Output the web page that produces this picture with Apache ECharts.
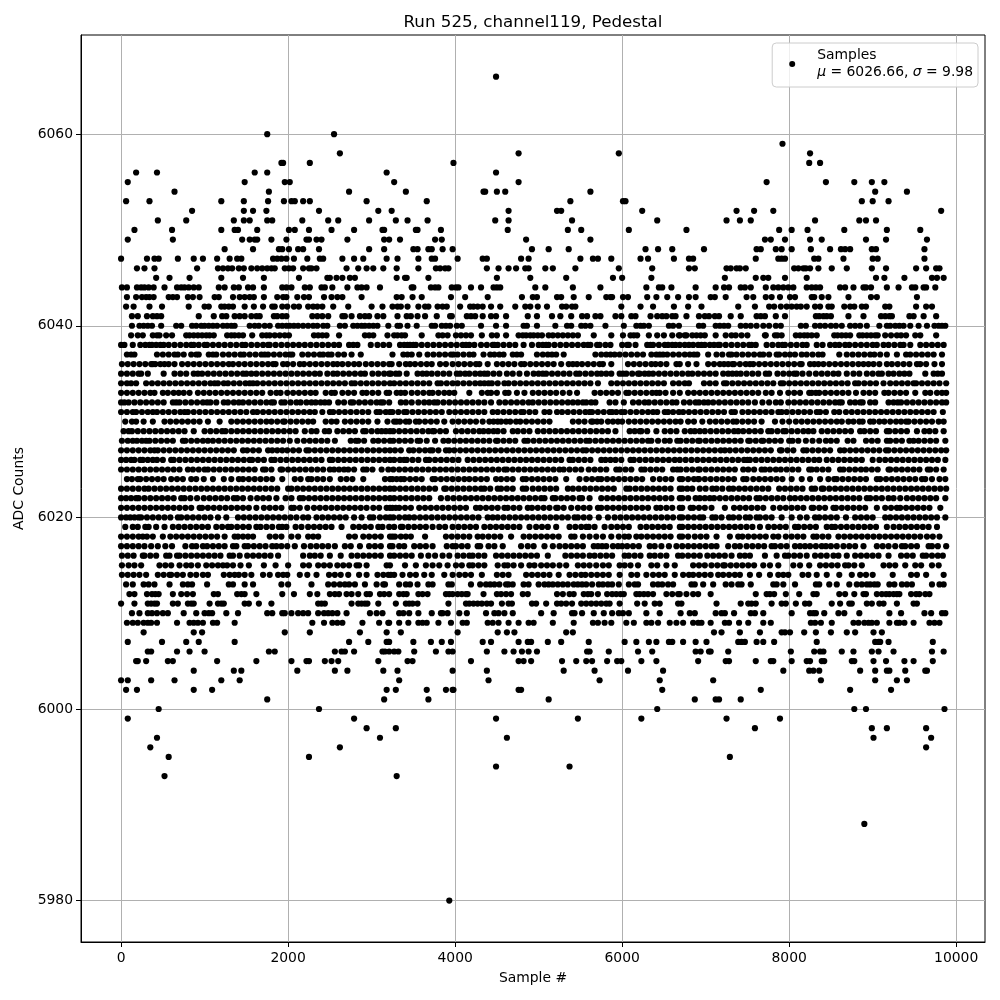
<!DOCTYPE html>
<html><head><meta charset="utf-8">
<style>html,body{margin:0;padding:0;background:#fff}#c{width:1000px;height:1000px}</style>
<script src="https://cdn.jsdelivr.net/npm/echarts@6/dist/echarts.min.js"></script>
</head><body><div id="c"></div>
<script>
// Sample numbers, one list per ADC level, written in tens of samples.
const r6066=[449];
const r6060=[175,255];
const r6059=[792];
const r6058=[262,476,596,825];
const r6057=[192,194,226,398,824,837];
const r6056=[18,43,160,175,318,449];
const r6055=[8,148,196,202,327,476,773,844,878,899,914];
const r6054=[64,177,273,341,434,436,450,460,562,903,941];
const r6053=[6,34,120,147,176,195,204,208,218,226,294,366,538,601,604,887,900,919];
const r6052=[85,147,158,174,237,308,324,464,522,527,624,737,758,781,982];
const r6051=[44,78,135,147,154,175,181,217,248,260,297,329,343,367,448,464,540,642,725,741,754,831,884,892,904];
const r6050=[16,61,120,136,140,163,201,208,225,252,279,313,315,353,355,383,463,535,551,608,677,788,803,822,866,917,957];
const r6049=[8,62,145,154,160,163,180,198,222,225,234,240,271,315,321,334,376,384,485,562,771,778,795,825,839,892,916,965];
const r6048=[124,158,189,193,201,212,218,237,297,315,350,355,368,372,385,397,492,512,536,628,643,660,698,761,766,784,791,803,826,849,862,867,873,899,904,962];
const r6047=[0,31,40,45,68,87,98,115,130,139,144,182,187,192,198,207,223,238,242,265,279,290,318,331,356,372,376,403,433,438,479,488,550,565,571,587,622,631,662,680,685,760,787,791,795,830,835,865,900,906,962];
const r6046=[19,28,40,91,116,122,128,133,141,147,156,163,169,175,180,184,196,201,206,218,225,228,234,270,284,294,302,314,330,356,377,382,388,392,438,452,464,473,484,488,508,517,544,596,636,680,687,725,730,737,741,748,806,811,817,820,825,835,851,869,899,916,952,964,976,980];
const r6045=[42,58,82,120,146,171,213,247,250,258,265,274,280,330,340,342,368,450,490,533,589,600,635,723,760,769,775,795,821,904,914,938,971,977,985];
const r6044=[1,7,19,24,28,33,39,52,67,72,76,81,87,93,117,124,135,141,152,158,171,193,198,204,220,226,240,244,253,271,283,288,294,310,348,350,371,376,380,396,401,404,419,431,446,450,454,496,508,541,574,629,644,648,659,688,712,722,728,742,747,754,772,781,787,793,799,805,821,827,832,837,861,867,877,889,892,898,917,931,947,951,961,964,975];
const r6043=[7,18,25,30,34,39,57,62,67,80,86,94,112,117,134,142,148,154,159,171,187,194,198,211,219,225,243,252,259,265,288,330,336,349,360,395,412,439,480,493,498,522,527,542,560,581,586,588,601,607,630,641,654,667,680,688,706,711,724,749,757,772,779,789,801,807,827,830,839,847,871,898,905,953];
const r6042=[6,15,34,49,81,100,105,120,124,129,134,148,159,170,181,184,193,199,207,213,224,230,235,241,254,272,300,313,325,331,335,343,356,364,368,379,385,390,406,418,422,427,433,443,454,472,484,490,499,510,528,533,540,544,599,622,637,662,679,695,739,759,776,782,790,797,803,809,814,821,831,837,847,851,866,873,878,887,892,915,920,952,964,971];
const r6041=[13,20,31,38,43,48,93,111,121,126,136,142,148,156,162,166,183,187,193,198,229,235,241,248,265,268,276,286,292,297,307,314,331,342,347,355,364,378,394,396,414,419,424,433,443,449,461,487,498,516,526,539,552,558,568,574,592,599,611,616,634,642,648,653,660,664,677,692,699,704,711,716,730,742,761,766,771,784,795,832,836,841,845,850,871,889,910,915,920,923,944,949,961,976];
const r6040=[13,22,27,32,37,48,66,72,85,90,96,100,105,110,115,122,127,132,136,154,160,165,172,178,188,193,198,202,207,212,218,224,230,235,242,247,262,268,278,283,288,292,297,302,307,320,331,334,343,354,372,376,384,389,394,402,408,431,449,461,482,486,498,520,534,539,551,556,562,580,602,617,622,626,632,656,661,668,692,697,712,717,722,727,742,748,754,761,769,776,784,790,814,820,831,837,843,850,856,863,873,879,885,893,908,917,921,927,932,937,945,955,965,974,979,983,987];
const r6039=[12,20,26,38,43,46,54,61,78,82,87,92,97,102,106,111,127,132,136,141,146,157,169,174,178,184,190,196,201,231,236,241,246,261,292,297,302,319,327,331,336,340,360,380,385,391,401,407,413,419,432,444,450,461,476,481,485,490,494,499,504,512,517,523,529,535,541,547,566,587,601,610,614,618,632,642,650,660,668,677,669,675,684,689,694,699,712,724,731,736,743,750,772,771,783,786,791,808,813,818,822,827,833,854,858,863,868,873,884,888,893,898,903,906,915,922,929,934,940,951,957,976];
const r6038=[0,4,14,23,29,34,37,42,47,51,57,64,71,78,84,87,93,100,103,110,117,124,131,138,145,149,156,163,170,176,178,185,192,199,206,213,220,227,234,241,248,255,261,273,278,283,299,307,314,321,334,339,343,346,350,353,360,367,374,381,388,395,402,409,413,417,423,431,438,445,447,451,458,465,472,482,492,500,505,509,512,519,526,533,540,547,554,559,562,570,573,580,586,600,606,608,616,630,634,637,644,651,655,660,664,669,675,680,685,691,695,699,705,710,715,717,724,731,738,745,752,755,760,773,780,787,792,795,802,809,816,821,833,840,849,855,860,867,872,879,886,893,900,905,913,919,926,933,937,945,957,964,971,978,985];
const r6037=[7,12,16,43,50,57,64,68,75,84,90,93,105,110,114,122,129,136,143,147,154,161,168,172,176,183,190,197,202,205,217,224,231,238,242,248,252,260,267,276,287,325,338,343,348,357,367,374,381,388,395,398,403,410,417,422,434,442,447,453,458,469,474,479,498,505,511,516,521,530,568,575,581,586,591,597,604,611,618,625,635,641,645,649,654,661,668,675,681,686,690,703,713,720,728,731,737,744,751,758,765,769,776,785,788,795,801,807,815,821,828,835,840,860,869,876,883,890,897,902,909,917,929,940,945,952,959,966,973,983];
const r6036=[1,8,15,22,29,36,38,41,47,52,57,64,73,80,87,94,101,108,115,122,129,134,141,148,155,162,169,176,182,185,194,199,206,214,219,226,233,240,247,254,259,265,272,279,285,293,300,307,314,321,324,333,341,346,352,359,366,372,382,389,397,404,411,418,425,429,439,450,457,464,471,479,483,490,497,504,511,518,527,536,541,546,552,559,566,573,577,587,607,614,621,628,635,640,646,653,665,669,679,689,703,710,717,722,727,732,734,741,748,753,757,764,771,778,785,792,799,806,813,815,825,830,835,841,848,855,862,869,876,883,889,895,901,908,917,923,930,937,944,953,957,964,974,983];
const r6035=[0,7,14,21,24,32,51,64,71,78,87,92,97,104,111,118,125,132,139,146,150,156,162,169,176,183,190,197,204,211,218,225,232,238,247,254,259,266,273,280,287,292,301,308,315,321,323,329,333,342,355,361,366,372,379,386,393,402,406,412,417,424,430,435,439,446,453,462,469,477,486,494,500,505,509,516,523,530,537,545,549,556,563,570,575,581,587,597,601,605,612,619,621,627,632,637,644,651,658,665,672,679,684,691,698,705,712,721,727,732,737,742,749,756,763,772,776,786,793,800,806,809,816,824,832,839,846,853,859,869,877,884,893,900,907,911,919,925,932,938,944,963,973,978,983];
const r6034=[0,7,12,18,30,37,44,51,58,65,72,79,86,93,100,107,112,116,123,128,135,142,149,154,158,163,170,177,184,191,198,205,212,219,226,233,240,247,254,261,268,276,280,287,294,301,308,315,322,327,334,341,348,355,362,369,379,383,390,397,403,410,417,424,430,435,440,444,451,459,464,471,478,485,492,499,506,513,520,527,534,541,548,555,562,571,587,594,601,608,615,622,629,636,643,650,661,668,675,680,698,705,712,722,725,732,739,746,753,760,767,774,781,790,793,800,807,814,821,828,835,842,849,856,863,870,879,883,890,897,904,913,921,928,935,942,949,952,959,966,973,980,988];
const r6033=[0,7,14,21,28,35,40,50,56,63,69,75,82,92,99,106,113,120,127,134,141,148,155,162,169,179,186,191,199,206,213,220,227,233,245,252,256,265,272,279,289,294,301,308,318,321,330,335,340,348,355,362,369,373,380,387,393,399,417,432,439,443,450,460,464,474,483,493,500,507,514,521,529,537,546,567,574,581,588,595,605,608,615,622,629,636,641,645,652,661,669,679,686,693,700,707,714,721,728,735,742,749,756,763,772,779,789,799,806,813,824,827,832,836,843,850,857,864,871,880,889,896,903,914,919,926,933,940,951,963,969,977,983,988];
const r6032=[0,4,9,16,23,30,37,44,51,62,66,70,77,84,91,98,103,107,114,123,128,135,141,146,153,160,167,174,180,183,192,196,203,210,215,222,228,233,239,244,249,260,267,275,278,285,292,299,306,311,314,321,335,341,348,356,363,369,375,379,386,393,400,407,414,421,428,435,443,453,460,467,474,481,488,493,500,507,514,521,528,535,541,547,553,557,563,568,585,592,602,613,620,627,632,639,646,653,660,665,674,681,688,692,698,703,709,716,723,730,737,744,751,759,768,776,784,790,799,806,813,820,827,834,841,848,855,860,863,873,879,885,888,897,903,919,925,930,934,941,948,955,962,969,976,983,988];
const r6031=[0,7,14,18,25,32,38,43,50,57,64,71,76,80,87,94,101,108,115,122,129,136,143,150,158,163,170,177,184,191,198,205,212,219,226,232,241,250,254,261,268,275,282,289,296,306,310,317,322,325,332,339,342,349,356,363,370,377,384,393,400,407,414,421,428,435,445,451,458,465,472,479,482,489,496,507,513,522,528,535,542,549,556,561,564,571,578,585,588,593,599,603,610,617,624,631,637,642,651,655,661,668,673,680,687,694,701,708,715,722,731,735,744,751,758,765,772,779,787,791,797,804,811,818,825,833,837,844,854,860,868,875,882,889,896,903,910,917,924,931,938,945,952,959,966,973,984];
const r6030=[5,13,18,27,38,52,59,66,73,80,87,94,104,118,132,139,146,153,160,167,174,180,187,194,196,203,210,217,224,230,245,252,258,268,275,282,289,296,307,319,327,330,334,341,345,353,357,364,371,378,387,397,404,411,418,425,433,441,446,451,455,461,466,473,478,485,492,499,506,513,541,548,555,563,565,570,575,583,589,595,600,608,615,622,629,636,643,650,657,664,670,679,686,696,705,712,719,726,733,737,744,751,758,767,783,792,800,808,815,822,829,836,843,850,857,863,871,877,884,888,897,901,908,914,921,928,934,940,943,950,957,964,971,979,985];
const r6029=[3,9,13,20,27,34,41,48,55,62,69,76,87,100,107,114,121,125,132,139,146,153,160,167,174,181,188,195,202,209,220,228,234,244,249,259,266,273,280,290,293,300,307,312,317,322,326,333,340,347,354,361,368,373,375,382,389,401,408,415,422,429,434,440,446,451,458,469,475,482,489,499,506,513,520,527,534,541,548,555,562,569,576,583,592,609,615,621,623,630,641,651,658,665,675,682,687,693,699,706,713,720,727,734,739,745,752,759,766,775,779,786,793,796,803,810,817,823,829,839,846,853,860,867,874,885,890,897,904,917,920,927,934,941,953,962,968,975,985];
const r6028=[1,8,14,19,25,30,34,41,48,55,62,74,77,84,91,98,104,110,117,124,131,138,145,152,159,166,173,180,187,194,202,211,219,226,233,240,247,256,275,281,284,291,302,308,315,322,326,333,340,347,355,358,366,376,386,392,399,406,413,420,427,434,441,449,451,458,465,472,483,487,494,501,508,515,522,529,536,543,550,557,561,568,575,582,589,596,603,610,617,624,631,635,643,651,657,666,670,677,684,691,693,700,707,714,721,728,735,742,751,753,760,767,769,776,783,790,800,804,811,820,828,836,844,850,857,870,877,892,899,906,917,921,928,935,944,949,955,962,969,976,987];
const r6027=[0,7,14,21,28,35,40,44,51,58,65,72,79,86,93,100,107,114,121,128,135,146,151,158,165,176,181,187,193,199,206,213,222,225,232,239,246,253,260,267,274,281,288,295,302,309,316,322,328,335,345,350,357,364,370,373,380,389,393,399,406,413,420,427,434,441,448,455,462,469,476,483,490,497,504,511,518,525,532,539,546,553,557,564,571,578,585,592,599,606,613,620,627,634,641,648,655,662,669,676,683,690,697,704,711,718,723,729,736,743,750,757,764,771,778,789,791,798,805,817,821,828,835,842,849,861,866,873,880,887,894,901,908,916,919,926,933,940,947,954,961,968,975,982,988];
const r6026=[0,6,12,16,23,26,32,38,43,50,60,63,70,77,84,91,98,105,112,119,126,133,140,147,154,157,164,171,180,184,191,198,205,212,219,226,233,240,250,253,260,267,274,281,288,295,302,309,316,322,327,334,339,342,349,356,365,369,376,383,390,397,404,415,422,429,436,443,450,457,464,471,478,485,492,499,506,513,520,527,537,541,548,555,562,575,580,586,592,599,610,614,621,628,635,642,649,656,663,669,676,683,690,697,704,711,718,725,732,739,746,750,753,760,767,774,781,788,795,802,809,816,823,830,836,845,852,859,866,873,880,887,900,908,915,922,929,936,943,950,957,964,971,978,987];
const r6025=[0,7,14,21,28,35,42,49,56,63,70,80,86,93,100,104,111,118,125,132,139,146,153,160,170,173,180,191,193,200,207,214,221,228,235,242,250,255,261,267,272,279,290,294,301,312,320,326,333,340,347,354,361,368,375,382,389,396,403,410,417,424,431,438,445,452,459,462,469,476,483,490,497,504,511,518,525,530,537,544,551,560,567,574,581,593,597,604,611,623,627,634,641,648,661,666,670,677,684,691,693,700,707,714,721,728,735,745,751,758,767,771,777,784,790,797,804,811,824,827,833,840,847,861,865,872,879,886,892,899,906,919,921,928,935,942,949,956,966,969,976,985];
const r6024=[7,13,20,23,30,37,44,51,60,67,74,84,90,99,110,123,132,141,146,153,160,167,174,181,193,208,215,224,228,235,242,250,263,270,277,290,316,322,325,330,335,339,346,353,360,373,376,383,390,397,404,411,417,424,431,438,449,455,462,469,481,485,492,499,506,513,520,533,549,557,564,571,575,582,589,596,603,610,617,624,637,645,652,659,669,672,679,686,691,692,699,706,713,720,727,734,745,749,757,764,771,778,785,792,803,815,825,837,847,854,857,864,871,878,885,892,905,909,916,923,930,937,944,951,959,963,971,980,987];
const r6023=[0,7,14,21,28,33,40,47,54,61,68,75,82,89,96,103,110,117,124,131,138,145,152,159,166,173,180,187,200,204,211,218,225,232,239,246,253,260,267,274,281,288,295,302,309,316,322,327,334,341,348,355,362,369,376,387,389,396,403,410,417,424,431,435,442,451,455,462,469,481,485,493,500,507,514,521,535,541,548,555,562,569,576,583,590,605,609,616,623,630,637,644,651,658,669,672,678,684,693,700,708,713,720,728,733,740,747,754,761,768,775,788,795,802,809,816,827,831,839,841,848,855,862,869,876,883,890,897,904,911,918,925,932,939,946,953,960,967,974,981,988];
const r6022=[0,6,12,18,21,28,35,42,49,56,63,72,76,83,91,99,106,113,120,127,135,139,146,155,163,170,177,186,197,204,214,218,225,232,239,246,253,260,267,274,281,288,295,302,309,316,322,327,334,341,348,355,362,369,383,391,398,405,412,419,426,433,440,447,454,461,468,475,482,489,496,503,507,517,520,527,534,541,549,552,561,575,582,589,596,603,610,617,624,631,638,645,652,659,669,672,679,688,693,699,705,710,717,724,731,738,745,752,761,765,772,779,786,793,801,807,814,821,828,835,842,849,856,863,870,877,884,893,897,904,911,919,925,933,941,948,955,962,969,976,987];
const r6021=[0,7,14,21,28,35,42,49,56,63,70,77,84,94,97,104,111,118,125,132,139,146,153,162,171,178,185,192,204,207,214,223,231,238,245,252,259,266,273,280,287,294,302,309,318,322,325,329,333,340,347,357,364,371,378,385,392,399,406,413,425,430,437,444,451,459,463,470,477,487,492,499,506,513,521,523,530,539,547,554,561,571,575,582,589,596,603,610,617,624,631,641,646,653,660,669,672,682,685,692,699,707,723,734,741,748,755,762,769,781,789,796,803,810,817,827,829,836,843,853,856,863,870,877,884,891,905,915,922,929,933,940,947,954,961,968,981];
const r6020=[0,6,11,16,21,24,31,38,45,52,59,68,72,79,86,93,100,107,116,126,140,147,154,161,168,175,182,189,196,203,210,218,224,234,241,248,255,262,269,279,288,298,302,310,317,322,326,333,340,345,351,358,365,372,379,386,393,400,407,414,421,428,439,445,451,458,465,472,479,486,493,500,507,514,521,528,535,543,547,554,561,572,583,591,598,605,612,619,626,633,640,647,654,661,669,672,679,686,693,697,708,712,719,728,733,740,748,753,761,765,772,779,791,803,813,821,831,836,843,850,857,868,879,886,893,900,915,921,928,935,942,949,956,963,970,977,987];
const r6019=[5,14,20,29,33,42,52,62,69,76,83,90,97,104,114,121,128,132,139,146,153,162,167,174,181,189,193,198,209,216,224,231,238,245,252,264,278,285,292,299,308,313,321,327,335,337,344,351,358,365,373,381,388,397,404,411,418,425,435,442,449,456,463,470,477,489,497,504,511,521,537,544,551,557,560,567,579,587,594,601,608,622,629,636,643,650,657,669,672,679,686,693,700,707,714,721,728,735,742,749,756,765,775,782,789,796,807,811,818,825,832,845,851,855,862,869,876,883,890,897,904,917,925,932,939,946,953,960,967,977];
const r6018=[0,7,14,21,26,31,38,50,59,66,73,80,87,94,101,108,115,124,136,140,146,152,158,178,185,192,204,212,224,230,236,273,280,290,297,304,311,322,325,328,335,341,347,364,389,396,403,410,417,427,433,440,447,454,467,482,489,496,503,510,517,524,539,543,553,561,569,577,587,596,603,608,617,623,630,637,644,651,658,669,672,679,687,694,701,713,729,739,744,751,758,765,772,781,787,796,803,810,817,829,833,840,847,859,866,873,880,887,894,901,908,915,922,929,936,943,950,957,965,972,980];
const r6017=[0,7,14,21,28,36,44,53,61,77,85,90,98,103,110,117,124,134,138,148,152,159,166,173,181,186,192,199,208,219,227,234,241,248,256,268,275,286,297,304,311,322,325,333,339,351,358,365,373,390,397,401,408,415,427,430,440,447,457,479,487,494,507,517,525,532,539,546,553,566,571,576,581,589,595,600,606,613,620,633,639,647,656,665,672,679,686,693,700,707,713,727,735,741,749,756,763,770,779,783,790,797,807,813,819,825,832,839,844,850,857,865,872,879,889,905,912,919,927,935,939,946,953,967,971,978,988];
const r6016=[1,8,15,26,28,35,42,54,58,67,70,77,84,91,98,105,112,119,130,134,142,151,158,165,172,179,188,218,226,232,239,250,263,276,283,290,297,304,311,322,327,334,341,348,359,368,376,385,393,403,410,417,421,428,435,449,456,463,470,477,484,491,498,511,532,539,546,553,561,567,574,581,588,603,608,615,622,633,639,646,653,667,672,679,686,693,702,709,716,723,731,741,747,753,771,785,795,799,806,813,821,831,838,845,853,859,869,879,886,893,900,907,919,934,941,948,960,964,971,978,984];
const r6015=[1,9,16,24,46,53,60,70,78,84,92,102,109,116,122,127,134,143,153,171,185,200,218,225,236,243,250,259,266,273,282,285,294,318,322,340,353,365,373,381,391,401,408,417,421,428,435,451,459,463,470,479,489,495,503,510,517,525,533,547,554,561,569,577,584,597,603,610,619,635,642,653,663,685,692,699,707,714,721,723,730,737,744,751,758,769,777,787,805,813,824,837,844,851,858,867,871,878,887,913,920,927,939,951,958,971,979];
const r6014=[1,8,15,22,30,44,51,58,60,67,74,83,90,98,104,123,130,136,141,148,156,170,178,188,194,199,214,223,234,249,256,263,272,285,294,307,314,320,323,327,337,346,353,363,372,387,397,405,412,419,432,450,457,464,485,492,499,506,513,524,537,544,551,556,563,570,577,584,597,611,618,629,637,644,651,663,673,680,685,692,699,706,715,721,728,735,741,753,764,777,787,793,799,816,823,833,845,860,875,885,892,900,924,946,953,964,985];
const r6013=[6,14,27,33,40,58,74,80,85,103,129,134,148,158,192,200,228,248,255,262,268,273,280,292,306,314,316,333,341,346,355,368,373,392,396,419,430,437,442,447,453,461,464,469,482,488,500,507,512,517,523,529,535,542,547,552,557,564,572,577,583,588,596,608,615,619,637,643,648,655,661,683,687,697,709,724,731,739,743,754,781,785,793,807,832,836,848,857,872,881,887,893,897,902,906,920,926,935,941,947,971,980,985];
const r6012=[10,16,31,37,41,45,62,72,79,86,111,116,139,144,148,162,193,207,226,235,250,256,261,270,276,284,294,298,310,315,321,333,338,342,356,361,367,389,393,397,403,408,413,415,434,450,455,461,467,481,487,522,529,537,542,554,559,563,571,582,588,593,598,602,617,621,626,631,637,653,660,667,669,677,685,691,706,760,773,777,782,796,812,829,833,860,867,878,889,892,905,911,916,920,925,929,932,946,952,956,963,968];
const r6011=[0,16,32,36,40,43,62,68,80,84,87,106,116,120,123,148,153,165,180,236,240,244,276,284,288,292,295,308,329,341,345,349,355,392,413,417,422,427,432,438,443,456,464,468,492,497,509,522,527,533,540,551,557,563,569,575,581,585,597,618,627,639,645,667,671,713,742,751,755,760,779,791,796,808,819,824,851,861,872,875,893,899,908,913,929,949,953];
const r6010=[13,22,32,37,43,50,56,75,90,100,105,109,126,140,175,181,193,196,204,212,218,224,236,243,248,253,259,270,298,306,313,333,338,345,356,372,383,385,391,405,414,437,447,452,459,469,503,518,540,543,552,566,578,588,596,601,608,629,645,670,681,687,712,719,723,734,754,759,769,803,825,829,832,842,859,866,884,920,934,962,970,983,987];
const r6009=[7,14,20,27,32,36,43,67,82,87,92,98,110,115,136,229,243,253,259,265,289,309,320,321,333,344,356,361,366,380,395,409,414,439,445,452,464,476,488,494,517,542,565,571,579,587,605,614,629,635,643,657,665,673,685,691,695,706,723,728,740,751,769,778,826,831,838,851,877,883,890,895,899,905,920,929,932,938,949,968,974,980];
const r6008=[27,87,97,196,226,286,318,335,403,451,462,471,533,541,710,719,741,765,791,795,801,818,832,850,869,879,901,911];
const r6007=[8,49,78,93,136,273,296,318,320,321,350,371,384,395,433,443,476,487,491,511,527,560,603,617,632,641,656,660,673,688,701,739,743,747,761,769,782,833,903,907,909,919,972];
const r6006=[32,36,67,82,100,177,184,256,264,268,279,313,316,321,327,332,351,377,392,397,438,459,470,480,488,498,558,561,584,619,636,688,694,704,706,727,802,830,837,841,863,877,899,907,925,971,985];
const r6005=[18,20,30,56,62,115,162,204,222,225,244,252,260,308,343,349,419,476,482,491,528,545,557,564,582,594,599,623,641,691,724,728,760,778,781,803,821,825,839,842,875,878,901,916,938,949,972];
const r6004=[87,135,144,211,256,271,314,331,397,438,530,567,607,649,793,824,829,836,885,903,917,920,939,963,965];
const r6003=[0,8,36,64,120,142,333,440,573,645,709,838,903,929,941];
const r6002=[6,19,87,109,318,329,366,389,397,398,476,479,648,766,873,922];
const r6001=[175,315,368,512,687,712,716,742];
const r6000=[45,237,642,878,892,986];
const r5999=[8,279,449,547,623,725,789];
const r5998=[294,329,759,899,917,964];
const r5997=[43,310,462,901,970];
const r5996=[35,262,964];
const r5995=[57,225,729];
const r5994=[449,537];
const r5993=[52,330];
const r5988=[890];
const r5980=[393];

const levels=[[6066,r6066],[6060,r6060],[6059,r6059],[6058,r6058],[6057,r6057],[6056,r6056],[6055,r6055],[6054,r6054],[6053,r6053],[6052,r6052],[6051,r6051],[6050,r6050],[6049,r6049],[6048,r6048],[6047,r6047],[6046,r6046],[6045,r6045],[6044,r6044],[6043,r6043],[6042,r6042],[6041,r6041],[6040,r6040],[6039,r6039],[6038,r6038],[6037,r6037],[6036,r6036],[6035,r6035],[6034,r6034],[6033,r6033],[6032,r6032],[6031,r6031],[6030,r6030],[6029,r6029],[6028,r6028],[6027,r6027],[6026,r6026],[6025,r6025],[6024,r6024],[6023,r6023],[6022,r6022],[6021,r6021],[6020,r6020],[6019,r6019],[6018,r6018],[6017,r6017],[6016,r6016],[6015,r6015],[6014,r6014],[6013,r6013],[6012,r6012],[6011,r6011],[6010,r6010],[6009,r6009],[6008,r6008],[6007,r6007],[6006,r6006],[6005,r6005],[6004,r6004],[6003,r6003],[6002,r6002],[6001,r6001],[6000,r6000],[5999,r5999],[5998,r5998],[5997,r5997],[5996,r5996],[5995,r5995],[5994,r5994],[5993,r5993],[5988,r5988],[5980,r5980]];
const samplesPerListUnit=10;
const xTicks=[0,2000,4000,6000,8000,10000];
const yTicks=[5980,6000,6020,6040,6060];
const points=[];
levels.forEach(([adc,list])=>list.forEach(t=>points.push([t*samplesPerListUnit,adc])));

const FONT='DejaVu Sans';
const axisCommon={
  nameLocation:'middle',
  nameTextStyle:{fontFamily:FONT,fontSize:13.9,color:'#000'},
  axisLine:{show:true,onZero:false,lineStyle:{color:'#000',width:1}},
  axisTick:{show:true,length:5,inside:false,lineStyle:{color:'#000',width:1}},
  splitLine:{show:true,lineStyle:{color:'#b0b0b0',width:1}},
  minorTick:{show:false}
};
const plainNumber=v=>String(v);
const chart=echarts.init(document.getElementById('c'),null,{renderer:'canvas'});
chart.setOption({
  animation:false,
  backgroundColor:'#fff',
  title:{text:'Run 525, channel119, Pedestal',left:528,top:9,textAlign:'center',
    textStyle:{fontFamily:FONT,fontSize:16.7,fontWeight:'normal',color:'#000'}},
  grid:{left:81,right:15,top:35,bottom:58,show:true,borderColor:'#000',borderWidth:1,containLabel:false},
  legend:{
    show:true,right:22,top:43,orient:'vertical',
    padding:[4,5,6,17],itemWidth:34,itemHeight:6,icon:'circle',
    backgroundColor:'rgba(255,255,255,0.8)',borderColor:'#ccc',borderWidth:1,borderRadius:4,
    itemStyle:{color:'#000'},
    textStyle:{fontFamily:FONT,fontSize:13.9,color:'#000',lineHeight:17,padding:[0,0,0,3],
      rich:{i:{fontFamily:FONT,fontSize:13.9,fontStyle:'italic',color:'#000',lineHeight:17}}},
    formatter:()=>'Samples\n{i|\u03bc} = 6026.66, {i|\u03c3} = 9.98',
    data:[{name:'Samples'}]
  },
  xAxis:Object.assign({},axisCommon,{type:'value',name:'Sample #',nameGap:29,min:-480,max:10345,
    axisTick:Object.assign({},axisCommon.axisTick,{customValues:xTicks}),
    axisLabel:{customValues:xTicks,formatter:plainNumber,fontFamily:FONT,fontSize:13.9,color:'#000',margin:9}}),
  yAxis:Object.assign({},axisCommon,{type:'value',name:'ADC Counts',nameGap:44,min:5975.68,max:6070.35,
    axisTick:Object.assign({},axisCommon.axisTick,{customValues:yTicks}),
    axisLabel:{customValues:yTicks,formatter:plainNumber,fontFamily:FONT,fontSize:13.9,color:'#000',margin:8}}),
  series:[{name:'Samples',type:'scatter',data:points,symbol:'circle',symbolSize:6.2,
    itemStyle:{color:'#000',opacity:1},large:false,progressive:0,z:3,clip:false}]
});
</script>
</body></html>
